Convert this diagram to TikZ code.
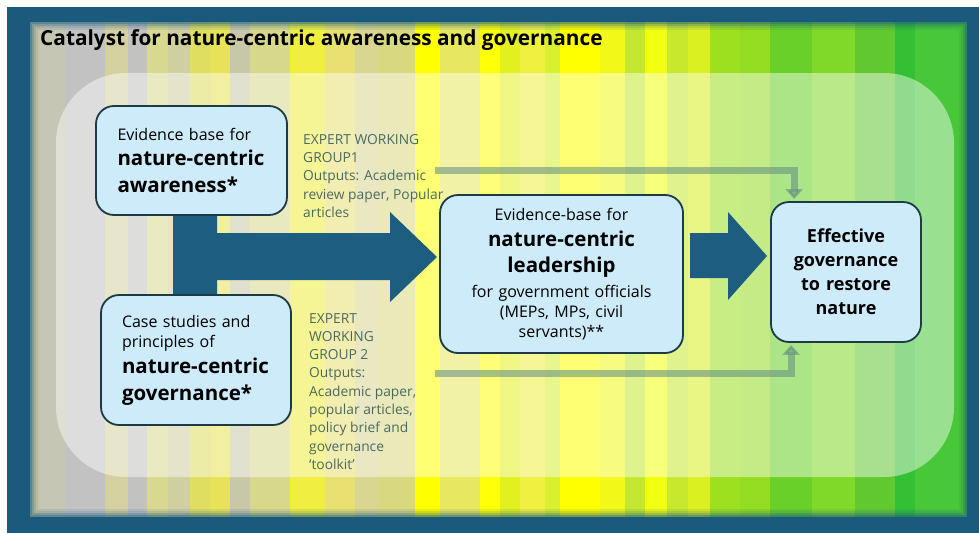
\documentclass[tikz,border=0pt]{standalone}
\usepackage{fontspec}
\setmainfont{Open Sans}
\usetikzlibrary{arrows.meta,calc}
\definecolor{frameblue}{HTML}{1B5A7D}
\definecolor{arrowblue}{HTML}{1C5D80}
\definecolor{boxfill}{HTML}{CDEBF9}
\definecolor{boxline}{HTML}{1D3B45}
\definecolor{labelcol}{HTML}{4A6B60}
\definecolor{thincol}{HTML}{5E8C80}
\tikzset{
  box/.style={draw=boxline, line width=1.8pt, rounded corners=18pt, fill=boxfill, inner sep=0pt},
  lbl/.style={text=labelcol, font=\fontsize{13.8}{18.3}\selectfont, align=left, inner sep=0pt, anchor=north west},
  thinarrow/.style={draw=thincol, draw opacity=0.55, fill opacity=0.55, line width=7pt, -{Triangle[width=17pt,length=10pt,fill=thincol]}},
  bigarrow/.style={fill=arrowblue}
}
\begin{document}
\begin{tikzpicture}[x=1pt,y=-1pt]
\useasboundingbox (0,0) rectangle (979,533);
\fill[white] (0,0) rectangle (979,533);
\fill[frameblue] (7,7) rectangle (979,533);
% stripes
\foreach \xa/\xb/\c in {30/40/C8C4A0,40/65/C6C6B4,65/105/C2C2C2,105/128/D4D0A0,128/147/C2C2C0,147/168/D8D890,168/190/D0CFA0,190/210/E0DE60,210/230/E8E258,230/250/C8C8A8,250/290/D8D88C,290/325/F0EE40,325/355/E8E070,355/378/D8D690,378/415/D8D880,415/440/FFFF00,440/480/E8E860,480/500/FFFF08,500/520/E2F020,520/545/F0F040,545/560/D8F030,560/600/FFFF00,600/625/F2F818,625/645/C4E830,645/667/F2FF10,667/688/C8E830,688/710/DAF020,710/740/9CE020,740/770/94DC22,770/812/68D028,812/855/80D828,855/895/62C830,895/915/34C034,915/967/48C838}{
  \definecolor{tmpc}{HTML}{\c}
  \fill[tmpc] (\xa,22) rectangle (\xb,517);
}
\foreach \i/\o in {0/0.6,2/0.4,4/0.22,6/0.1}{
  \draw[frameblue, opacity=\o, line width=2pt] (31+\i,23+\i) rectangle (966-\i,516-\i);
}
% translucent panel
\fill[white, opacity=0.45, rounded corners=70pt] (56,73) rectangle (954,477);
% title
\node[anchor=base west, inner sep=0pt, font=\bfseries\fontsize{20.8}{24}\selectfont] (title) at (40,45) {Catalyst for nature-centric awareness and governance};
% big arrows
\fill[bigarrow] (173,210) -- (217,210) -- (217,233) -- (390,233) -- (390,212) -- (437,257) -- (390,302) -- (390,280) -- (217,280) -- (217,300) -- (173,300) -- cycle;
\fill[bigarrow] (690,233) -- (728,233) -- (728,212) -- (767,256) -- (728,300) -- (728,278) -- (690,278) -- cycle;
% boxes
\node[box, minimum width=191pt, minimum height=109pt, text width=148pt, align=left, font=\fontsize{16}{25}\selectfont] (a) at (191.5,160.5)
 {Evidence base for\\{\bfseries\fontsize{20.5}{25}\selectfont nature-centric}\\[2pt]{\bfseries\fontsize{20.5}{25}\selectfont awareness*}};
\node[box, minimum width=190pt, minimum height=130pt, text width=148pt, align=left, font=\fontsize{16}{20}\selectfont] (b) at (196,360)
 {Case studies and\\principles of\\[6pt]{\bfseries\fontsize{20.5}{25}\selectfont nature-centric}\\[7pt]{\bfseries\fontsize{20.5}{25}\selectfont governance*}};
\node[box, minimum width=243pt, minimum height=158pt, text width=230pt, align=center, font=\fontsize{16}{19.5}\selectfont] (c) at (561.5,274)
 {Evidence-base for\\[6.5pt]{\bfseries\fontsize{20.5}{25}\selectfont nature-centric}\\[6.5pt]{\bfseries\fontsize{20.5}{25}\selectfont leadership}\\[5.5pt]for government officials\\(MEPs, MPs, civil\\[0.5pt]servants)**};
\node[box, minimum width=150pt, minimum height=140pt, text width=140pt, align=center, font=\bfseries\fontsize{18}{24}\selectfont] (r) at (846,272)
 {Effective\\governance\\to restore\\nature};
% labels
\node[lbl] (l1) at (303,134) {EXPERT WORKING\\GROUP1\\Outputs: Academic\\review paper, Popular\\articles};
\node[lbl] (l2) at (309,313) {EXPERT\\WORKING\\GROUP 2\\Outputs:\\Academic paper,\\popular articles,\\policy brief and\\governance\\‘toolkit’};
% thin arrows
\coordinate (u0) at (435,170);
\coordinate (d0) at (435,373);
\draw[thinarrow] (u0) -| ($(r.north west)+(24,-2)$);
\draw[thinarrow] (d0) -| ($(r.south west)+(21,2)$);
\end{tikzpicture}
\end{document}
